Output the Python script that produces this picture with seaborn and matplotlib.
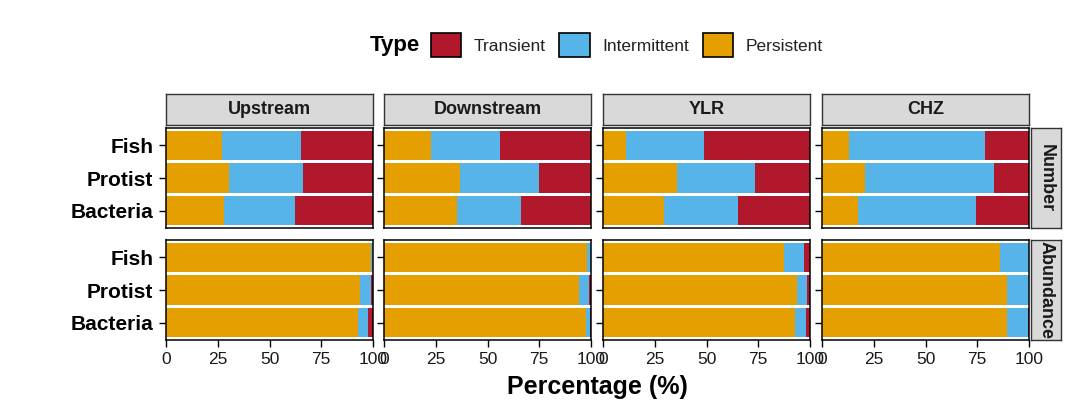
import pandas as pd
import matplotlib.pyplot as plt
import seaborn as sns
from matplotlib.patches import Patch

# === Data: percentages per site, order Fish / Protist / Bacteria ===
sites = ["Upstream", "Downstream", "YLR", "CHZ"]
taxa = ["Fish", "Protist", "Bacteria"]
metrics = ["Number", "Abundance"]
types = ["Transient", "Intermittent", "Persistent"]

number_persistent = [[27, 30.5, 28], [22.5, 36.5, 35.5], [11.3, 35.8, 29.4], [12.9, 21, 17.6]]
number_intermittent = [[38, 35.5, 34.5], [33.3, 38.5, 30.5], [37.6, 37.6, 35.6], [65.8, 62, 56.9]]
number_transient = [[35, 34, 37.5], [44.2, 25, 34], [51.1, 26.6, 35], [21.3, 17, 25.5]]

abund_persistent = [[99, 93.5, 92.6], [98.2, 94.3, 97.8], [87.4, 93.9, 92.6], [85.8, 89.5, 89.5]]
abund_intermittent = [[0.8, 5.3, 5.2], [1.8, 4.9, 1.8], [9.7, 4.8, 5.6], [14.2, 10.3, 10.0]]
abund_transient = [[0.2, 1.2, 2.2], [0.0, 0.8, 0.4], [2.9, 1.3, 1.8], [0.0, 0.2, 0.5]]

palette = {"Transient": "#B2182B", "Intermittent": "#56B4E9", "Persistent": "#E69F00"}

series = {
    "Number": {"Persistent": number_persistent, "Intermittent": number_intermittent, "Transient": number_transient},
    "Abundance": {"Persistent": abund_persistent, "Intermittent": abund_intermittent, "Transient": abund_transient},
}

rows = []
for m in metrics:
    for si, s in enumerate(sites):
        for ti, t in enumerate(taxa):
            for ty in ["Persistent", "Intermittent", "Transient"]:
                rows.append({"Metric": m, "Site": s, "Taxon": t, "Type": ty,
                             "Value": series[m][ty][si][ti]})
df = pd.DataFrame(rows)
# stacked: cumulative from Persistent -> Intermittent -> Transient
df["Cum"] = df.groupby(["Metric", "Site", "Taxon"])["Value"].cumsum()

sns.set_theme(style="white")
plt.rcParams["font.family"] = ["Liberation Sans", "DejaVu Sans"]
plt.rcParams["text.color"] = "black"

W, H = 1080, 405
fig = plt.figure(figsize=(W / 100, H / 100), dpi=100)

col_left = [166, 384, 603, 822]
pw = 207
row_top = [128, 240]
ph = 100

def fx(x):
    return x / W

def fy(y):
    return 1 - y / H

for ri, m in enumerate(metrics):
    for ci, s in enumerate(sites):
        ax = fig.add_axes([fx(col_left[ci]), fy(row_top[ri] + ph), fx(pw), ph / H])
        sub = df[(df.Metric == m) & (df.Site == s)]
        sns.barplot(data=sub, x="Cum", y="Taxon", hue="Type", hue_order=types,
                    order=taxa, palette=palette, dodge=False, width=0.9,
                    saturation=1, linewidth=0, legend=False, ax=ax)
        ax.set_xlim(0, 100)
        ax.set_ylim(2.53, -0.53)
        ax.set_xlabel("")
        ax.set_ylabel("")
        for sp in ax.spines.values():
            sp.set_color("black")
            sp.set_linewidth(1.1)
        ax.tick_params(axis="both", direction="out", length=5, width=1, color="black",
                       pad=4, bottom=(ri == 1), left=True)
        ax.set_yticks(range(3))
        if ci == 0:
            ax.set_yticklabels(taxa, fontsize=15, fontweight="bold", color="black")
        else:
            ax.set_yticklabels([])
        if ri == 1:
            ax.set_xticks([0, 25, 50, 75, 100])
            ax.set_xticklabels(["0", "25", "50", "75", "100"], fontsize=12.5, color="#1a1a1a")
        else:
            ax.set_xticks([])

        # column strip
        if ri == 0:
            sax = fig.add_axes([fx(col_left[ci]), fy(125), fx(pw), 31 / H])
            sax.set_facecolor("#D9D9D9")
            sax.set_xticks([]); sax.set_yticks([])
            for sp in sax.spines.values():
                sp.set_color("#333333"); sp.set_linewidth(1)
            sax.text(0.5, 0.5, s, ha="center", va="center", fontsize=13,
                     fontweight="bold", color="#1a1a1a", transform=sax.transAxes)
    # row strip
    rax = fig.add_axes([fx(1031), fy(row_top[ri] + ph), fx(30), ph / H])
    rax.set_facecolor("#D9D9D9")
    rax.set_xticks([]); rax.set_yticks([])
    for sp in rax.spines.values():
        sp.set_color("#333333"); sp.set_linewidth(1)
    rax.text(0.5, 0.5, m, ha="center", va="center", fontsize=13, rotation=-90,
             fontweight="bold", color="#1a1a1a", transform=rax.transAxes)

fig.text(fx(597), fy(387), "Percentage (%)", ha="center", va="center",
         fontsize=18, fontweight="bold")

# legend
fig.text(fx(370), fy(46), "Type", ha="left", va="center", fontsize=16, fontweight="bold")
handles = [Patch(facecolor=palette[t], edgecolor="black", linewidth=1.2) for t in types]
leg = fig.legend(handles, types, loc="center left", bbox_to_anchor=(fx(431), fy(45)),
                 ncol=3, frameon=False, fontsize=12.5, handlelength=1.75, handleheight=1.75,
                 handletextpad=0.7, columnspacing=0.8, borderaxespad=0, borderpad=0)
for t in leg.get_texts():
    t.set_color("#222222")

fig.savefig("out.png", dpi=100)
